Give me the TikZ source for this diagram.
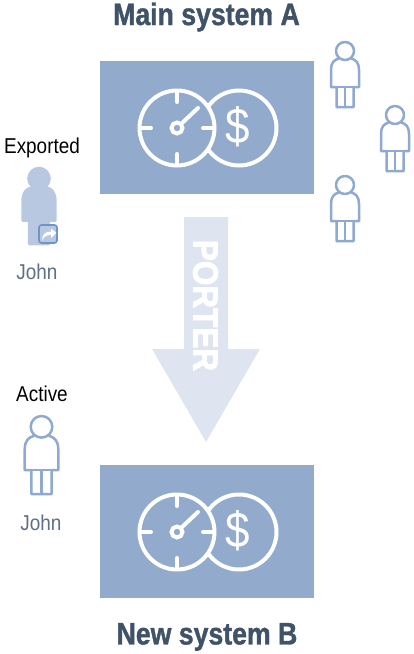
\documentclass[tikz,border=0pt]{standalone}
\usepackage{fontspec}
\setmainfont{Liberation Sans}[FakeStretch=0.88]
\newfontfamily\titlefont{Liberation Sans Bold}[FakeStretch=0.86,FakeBold=1.2]
\newfontfamily\porterfont{Liberation Sans Bold}[FakeStretch=0.9,FakeBold=2.5]
\definecolor{boxblue}{HTML}{92AACC}
\definecolor{lineblue}{HTML}{8FA9D0}
\definecolor{ghostblue}{HTML}{B7C8E0}
\definecolor{arrowblue}{HTML}{DFE5F0}
\definecolor{titleblue}{HTML}{3F5268}
\definecolor{nameblue}{HTML}{5E6F85}
\definecolor{badgeblue}{HTML}{6F95C4}
\tikzset{
  sysbox/.style={fill=boxblue, minimum width=214pt, minimum height=133pt, inner sep=0pt},
  titletext/.style={font=\fontsize{31}{31}\titlefont, text=titleblue, inner sep=0pt},
  statetext/.style={font=\fontsize{21.5}{21.5}\selectfont, text=black, inner sep=0pt},
  nametext/.style={font=\fontsize{21.5}{21.5}\selectfont, text=nameblue, inner sep=0pt},
  outlineman/.style={draw=lineblue, line width=2.5pt, line join=round},
  filledman/.style={draw=ghostblue, fill=ghostblue, line width=2.5pt, line join=round},
  iconline/.style={draw=white, line width=4pt, line cap=round},
  pics/person/.style={code={
    \path[#1] (-6,16.5) .. controls (-11,17.5) and (-14,21) .. (-14,28) -- (-14,45) -- (-8.5,45)
      -- (-8.5,65) -- (8.5,65) -- (8.5,45) -- (14,45) -- (14,28) .. controls (14,21) and (11,17.5) .. (6,16.5);
    \path[#1] (-8.5,45) -- (8.5,45) (0,45) -- (0,65);
    \path[#1] (0,9) circle (9);
  }},
  pics/meter/.style={code={
    \draw[iconline] (62,0) circle (37.5);
    \draw[iconline, fill=boxblue] (0,0) circle (37.5);
    \draw[iconline] (0,-36) -- (0,-26);
    \draw[iconline] (0,36) -- (0,26);
    \draw[iconline] (-36,0) -- (-26,0);
    \draw[iconline] (36,0) -- (26,0);
    \draw[iconline] (3.8,-3.8) -- (21,-20);
    \draw[iconline] (0,0) circle (5.5);
    \node[text=white, inner sep=0pt, font=\fontsize{50}{50}\selectfont] (-dollar) at (61,-1) {\$};
  }}
}
\begin{document}
\begin{tikzpicture}[x=1pt,y=-1pt]
\useasboundingbox (0,0) rectangle (413,654);
\node[titletext] (titleA) at (206.5,17) {Main system A};
\node[titletext] (titleB) at (207,637) {New system B};
\node[sysbox] (boxA) at (207,127.5) {};
\node[sysbox] (boxB) at (207,531.5) {};
\pic (meterA) at (177,128) {meter};
\pic (meterB) at (177,532) {meter};
\pic (userA) at (345,42) {person=outlineman};
\pic (userB) at (395,106) {person=outlineman};
\pic (userC) at (345,176) {person=outlineman};
\node[statetext] (exported) at (42,148) {Exported};
\pic[scale=1.17] (exportman) at (39,168) {person=filledman};
\node[draw=badgeblue, line width=1.6pt, fill=ghostblue, rounded corners=2.5pt, minimum size=18pt, inner sep=0pt] (badge) at (48,234) {};
\fill[white, shift={(badge.center)}] (-6,6) .. controls (-6,0) and (-2,-2.5) .. (3,-2.5) -- (3,-5.5) -- (8.5,-1) -- (3,4) -- (3,1) .. controls (-1,1) and (-3,2) .. (-6,6) -- cycle;
\node[nametext] (nameA) at (37,272) {John};
\node[statetext] (active) at (42,394) {Active};
\pic[scale=1.2] (activeman) at (41.5,416) {person=outlineman};
\node[nametext] (nameB) at (41,523) {John};
\fill[arrowblue] (184,217) -- (228,217) -- (228,349) -- (260,349) -- (206,442) -- (152,349) -- (184,349) -- cycle;
\node[rotate=-90, text=white, inner sep=0pt, font=\fontsize{35}{35}\porterfont] (porter) at (205.5,305.5) {PORTER};
\end{tikzpicture}
\end{document}
